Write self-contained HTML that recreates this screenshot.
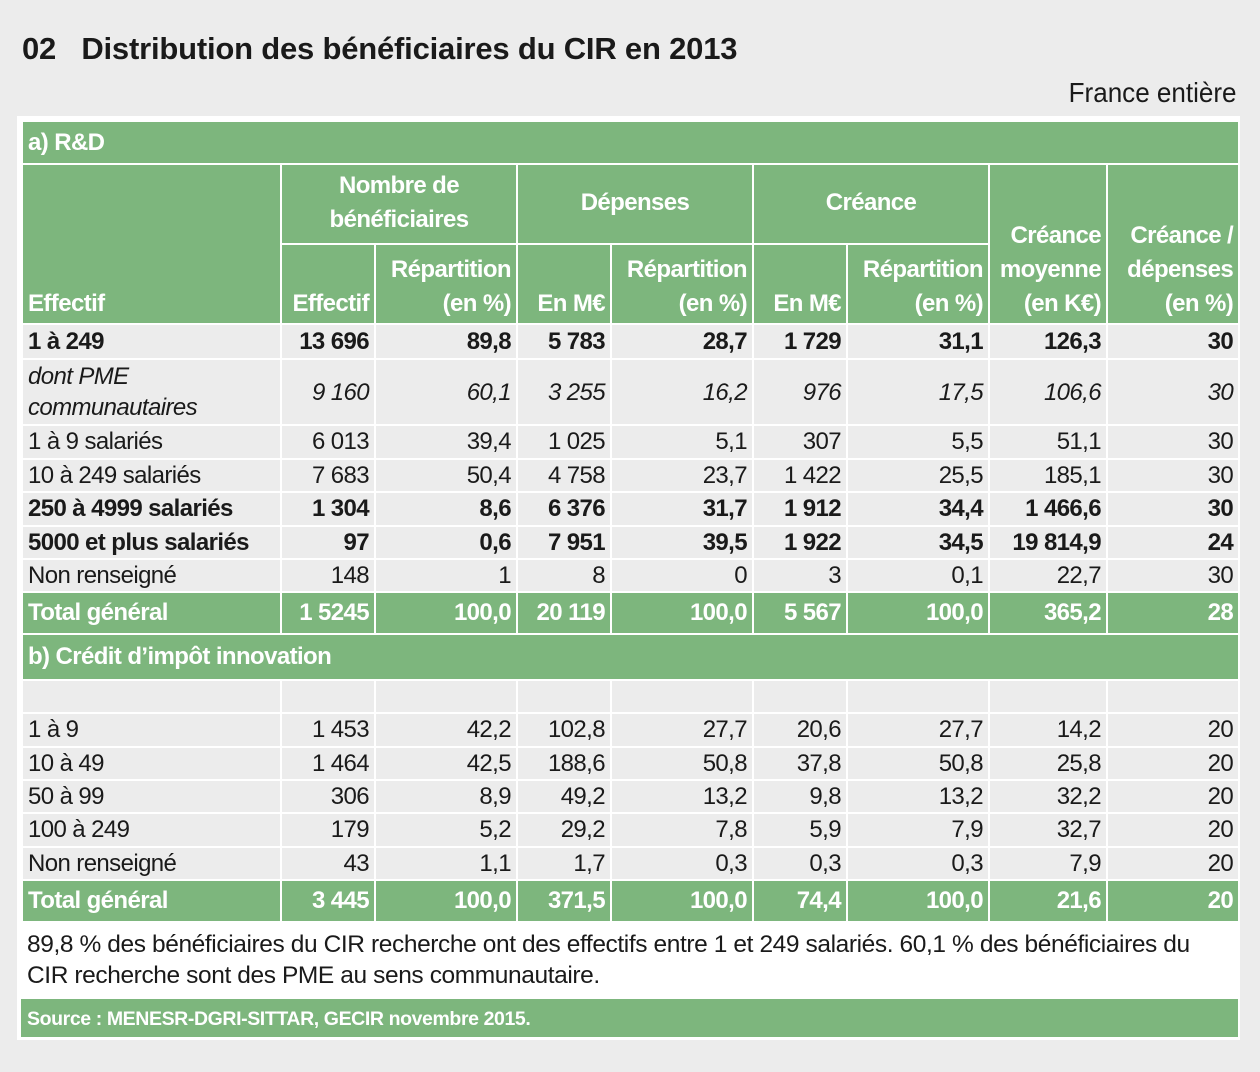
<!DOCTYPE html>
<html><head><meta charset="utf-8"><style>
body{margin:0;width:1260px;height:1072px;background:#ececec;font-family:"Liberation Sans",sans-serif;color:#1a1a1a;position:relative;overflow:hidden}
.t{position:absolute;left:22px;top:31px;font-weight:bold;font-size:31px;letter-spacing:-.2px}
.fe{position:absolute;right:23px;top:77px;font-size:28px;transform:scaleX(.93);transform-origin:right}
.fr{position:absolute;left:17px;top:116px;width:1223px;height:924px;background:#fff}
table{position:absolute;left:21px;top:120px;border-collapse:collapse;table-layout:fixed;width:1217px}
td{border:2px solid #fff;padding:0 5px;font-size:24px;white-space:nowrap;overflow:hidden;text-align:right;letter-spacing:-.6px;line-height:26px;background:#ececec}
td:first-child{text-align:left}
.g td{background:#7db67d;color:#fff;font-weight:bold}
.h td{text-align:center;vertical-align:bottom;line-height:34px;padding-bottom:2px}
.b td{font-weight:bold}
.i td{font-style:italic;line-height:31px}
.sec td{text-align:left}
.note{position:absolute;left:27px;top:929px;font-size:24.5px;line-height:31px;letter-spacing:-.4px}
.src{position:absolute;left:21px;top:999px;width:1217px;height:38px;background:#7db67d;color:#fff;font-weight:bold;font-size:19.5px;line-height:40px;padding-left:6px;box-sizing:border-box;letter-spacing:-.4px}
</style></head><body>
<div class="t">02&nbsp;&nbsp;&nbsp;Distribution des bénéficiaires du CIR en 2013</div>
<div class="fe">France entière</div>
<div class="fr"></div>
<table>
<colgroup><col style="width:259px"><col style="width:94px"><col style="width:142px"><col style="width:94px"><col style="width:142px"><col style="width:94px"><col style="width:142px"><col style="width:118px"><col style="width:132px"></colgroup>
<tr class="g sec" style="height:43px"><td colspan="9">a) R&amp;D</td></tr>
<tr class="g h" style="height:80px"><td rowspan="2" style="text-align:left">Effectif</td><td colspan="2" style="vertical-align:middle">Nombre de<br>bénéficiaires</td><td colspan="2" style="vertical-align:middle">Dépenses</td><td colspan="2" style="vertical-align:middle">Créance</td><td rowspan="2" style="text-align:right">Créance<br>moyenne<br>(en K€)</td><td rowspan="2" style="text-align:right">Créance /<br>dépenses<br>(en %)</td></tr>
<tr class="g h" style="height:80px"><td style="text-align:right">Effectif</td><td style="text-align:right">Répartition<br>(en %)</td><td style="text-align:right">En M€</td><td style="text-align:right">Répartition<br>(en %)</td><td style="text-align:right">En M€</td><td style="text-align:right">Répartition<br>(en %)</td></tr>
<tr class="b" style="height:35px"><td>1 à 249</td><td>13 696</td><td>89,8</td><td>5 783</td><td>28,7</td><td>1 729</td><td>31,1</td><td>126,3</td><td>30</td></tr>
<tr class="i" style="height:66px"><td>dont PME<br>communautaires</td><td>9 160</td><td>60,1</td><td>3 255</td><td>16,2</td><td>976</td><td>17,5</td><td>106,6</td><td>30</td></tr>
<tr style="height:34px"><td>1 à 9 salariés</td><td>6 013</td><td>39,4</td><td>1 025</td><td>5,1</td><td>307</td><td>5,5</td><td>51,1</td><td>30</td></tr>
<tr style="height:33px"><td>10 à 249 salariés</td><td>7 683</td><td>50,4</td><td>4 758</td><td>23,7</td><td>1 422</td><td>25,5</td><td>185,1</td><td>30</td></tr>
<tr class="b" style="height:34px"><td>250 à 4999 salariés</td><td>1 304</td><td>8,6</td><td>6 376</td><td>31,7</td><td>1 912</td><td>34,4</td><td>1 466,6</td><td>30</td></tr>
<tr class="b" style="height:33px"><td>5000 et plus salariés</td><td>97</td><td>0,6</td><td>7 951</td><td>39,5</td><td>1 922</td><td>34,5</td><td>19 814,9</td><td>24</td></tr>
<tr style="height:33px"><td>Non renseigné</td><td>148</td><td>1</td><td>8</td><td>0</td><td>3</td><td>0,1</td><td>22,7</td><td>30</td></tr>
<tr class="g" style="height:42px"><td>Total général</td><td>1 5245</td><td>100,0</td><td>20 119</td><td>100,0</td><td>5 567</td><td>100,0</td><td>365,2</td><td>28</td></tr>
<tr class="g sec" style="height:46px"><td colspan="9">b) Crédit d’impôt innovation</td></tr>
<tr style="height:33px"><td></td><td></td><td></td><td></td><td></td><td></td><td></td><td></td><td></td></tr>
<tr style="height:34px"><td>1 à 9</td><td>1 453</td><td>42,2</td><td>102,8</td><td>27,7</td><td>20,6</td><td>27,7</td><td>14,2</td><td>20</td></tr>
<tr style="height:33px"><td>10 à 49</td><td>1 464</td><td>42,5</td><td>188,6</td><td>50,8</td><td>37,8</td><td>50,8</td><td>25,8</td><td>20</td></tr>
<tr style="height:33px"><td>50 à 99</td><td>306</td><td>8,9</td><td>49,2</td><td>13,2</td><td>9,8</td><td>13,2</td><td>32,2</td><td>20</td></tr>
<tr style="height:34px"><td>100 à 249</td><td>179</td><td>5,2</td><td>29,2</td><td>7,8</td><td>5,9</td><td>7,9</td><td>32,7</td><td>20</td></tr>
<tr style="height:33px"><td>Non renseigné</td><td>43</td><td>1,1</td><td>1,7</td><td>0,3</td><td>0,3</td><td>0,3</td><td>7,9</td><td>20</td></tr>
<tr class="g" style="height:42px"><td>Total général</td><td>3 445</td><td>100,0</td><td>371,5</td><td>100,0</td><td>74,4</td><td>100,0</td><td>21,6</td><td>20</td></tr>
</table>
<div class="note">89,8 % des bénéficiaires du CIR recherche ont des effectifs entre 1 et 249 salariés. 60,1 % des bénéficiaires du<br>CIR recherche sont des PME au sens communautaire.</div>
<div class="src">Source : MENESR-DGRI-SITTAR, GECIR novembre 2015.</div>
</body></html>
